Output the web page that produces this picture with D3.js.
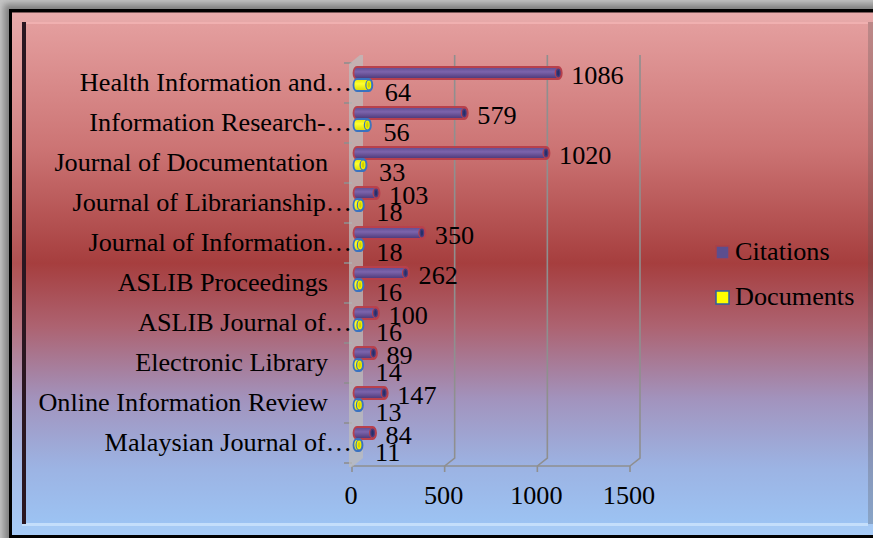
<!DOCTYPE html>
<html>
<head>
<meta charset="utf-8">
<script src="https://cdn.jsdelivr.net/npm/d3@7"></script>
<style>
  body { margin: 0; background: #c4c4c4; }
  svg { display: block; }
  text { font-family: "Liberation Serif", "Times New Roman", serif; fill: #000; }
</style>
</head>
<body>
<svg width="873" height="538"></svg>
<script>
// data
var categories = ["Health Information and\u2026", "Information Research-\u2026", "Journal of Documentation",
                  "Journal of Librarianship\u2026", "Journal of Information\u2026", "ASLIB Proceedings",
                  "ASLIB Journal of\u2026", "Electronic Library", "Online Information Review", "Malaysian Journal of\u2026"]
var citations = [1086, 579, 1020, 103, 350, 262, 100, 89, 147, 84]
var documents = [64, 56, 33, 18, 18, 16, 16, 14, 13, 11]
var xTicks = [0, 500, 1000, 1500]
var seriesNames = ["Citations", "Documents"]

var svg = d3.select('svg')
var defs = svg.append('defs')
var fs = 24.5, sx = 1.07   // text looks a bit wider than tall in the picture

// background gradient, pink -> dark red -> blue
var bg = defs.append('linearGradient').attr('id', 'bg')
    .attr('gradientUnits', 'userSpaceOnUse').attr('x1', 0).attr('y1', 12).attr('x2', 0).attr('y2', 535)
var bgStops = [[0, '#e6a2a2'], [0.26, '#cc7474'], [0.48, '#a63e3e'], [0.6, '#ad6270'],
               [0.74, '#a293bd'], [0.87, '#9cb3e3'], [1, '#9cc6f6']]
bg.selectAll('stop').data(bgStops).enter().append('stop')
    .attr('offset', function(d){ return d[0] }).attr('stop-color', function(d){ return d[1] })

var purple = defs.append('linearGradient').attr('id', 'pu').attr('x1', 0).attr('y1', 0).attr('x2', 0).attr('y2', 1)
purple.append('stop').attr('offset', 0).attr('stop-color', '#5e4a8e')
purple.append('stop').attr('offset', 0.4).attr('stop-color', '#7c64ac')
purple.append('stop').attr('offset', 1).attr('stop-color', '#4a3676')
var yellow = defs.append('linearGradient').attr('id', 'ye').attr('x1', 0).attr('y1', 0).attr('x2', 0).attr('y2', 1)
yellow.append('stop').attr('offset', 0).attr('stop-color', '#e8e800')
yellow.append('stop').attr('offset', 0.4).attr('stop-color', '#ffff30')
yellow.append('stop').attr('offset', 1).attr('stop-color', '#d8d800')

var shadow = defs.append('filter').attr('id', 'sh').attr('x', -0.1).attr('y', -0.1).attr('width', 1.2).attr('height', 1.2)
shadow.append('feGaussianBlur').attr('stdDeviation', 3)

// frame
svg.append('rect').attr('x', 4).attr('y', 4).attr('width', 880).attr('height', 540)
    .attr('fill', '#555').attr('opacity', 0.6).attr('filter', 'url(#sh)')
svg.append('rect').attr('x', 9).attr('y', 9).attr('width', 870).attr('height', 535).attr('fill', '#000')
svg.append('rect').attr('x', 12).attr('y', 12.5).attr('width', 870).attr('height', 522.5).attr('fill', 'url(#bg)')
svg.append('rect').attr('x', 12).attr('y', 12.5).attr('width', 870).attr('height', 522.5)
    .attr('fill', '#fff').attr('opacity', 0.1)
svg.append('rect').attr('x', 22).attr('y', 22).attr('width', 846).attr('height', 501).attr('fill', 'url(#bg)')
svg.append('rect').attr('x', 22).attr('y', 22).attr('width', 846).attr('height', 2).attr('fill', '#f2b4b4').attr('opacity', 0.8)
svg.append('rect').attr('x', 22).attr('y', 523).attr('width', 846).attr('height', 3).attr('fill', '#c8e0fc').attr('opacity', 0.9)
svg.append('rect').attr('x', 22).attr('y', 22).attr('width', 4).attr('height', 502).attr('fill', '#2a1620')
svg.append('rect').attr('x', 868).attr('y', 22).attr('width', 6).attr('height', 502).attr('fill', '#000').attr('opacity', 0.18)

// scales on the front plane; back wall is shifted (+10,-8), bars sit half way
var x = d3.scaleLinear().domain([0, 1500]).range([352, 630])
var y = d3.scaleBand().domain(categories).range([63, 463])
var dx = 10, dy = -8
var floorY = 466, topY = 63

var grid = svg.append('g').attr('stroke', '#8f8f8f').attr('stroke-width', 1.6).attr('fill', 'none')
// left wall
svg.append('polygon')
    .attr('points', [[349, topY + 1], [x(0) + dx - 2, topY + dy], [x(0) + dx + 1, topY + dy],
                     [x(0) + dx + 1, floorY + dy], [x(0), floorY + 1], [349, floorY + 1]].join(' '))
    .attr('fill', '#bcbcbc').attr('opacity', 0.75)
grid.selectAll('.g').data(xTicks.slice(1)).enter().append('path')
    .attr('d', function(d){ return 'M' + (x(d) + dx) + ',' + (topY + dy) + 'V' + (floorY + dy) + 'L' + x(d) + ',' + floorY })
grid.append('path').attr('d', 'M' + x(0) + ',' + floorY + 'H' + x(1500))
grid.selectAll('.t').data(xTicks).enter().append('path')
    .attr('d', function(d){ return 'M' + x(d) + ',' + floorY + 'v6' })
grid.selectAll('.c').data(d3.range(categories.length + 1)).enter().append('path')
    .attr('d', function(i){ return 'M344,' + (63 + i * y.step()) + 'h8' })

// cylinder bars
var bh = 12, rx = 3.5
function cyl(x0, x1, cy) {
  var t = cy - bh / 2, b = cy + bh / 2
  return 'M' + x0 + ',' + t + 'L' + x1 + ',' + t + 'A' + rx + ',' + (bh / 2) + ' 0 0 1 ' + x1 + ',' + b +
         'L' + x0 + ',' + b + 'A' + rx + ',' + (bh / 2) + ' 0 0 1 ' + x0 + ',' + t + 'Z'
}
function center(i) { return y(categories[i]) + y.bandwidth() / 2 + dy / 2 }
var series = [
  { vals: citations, off: -6, fill: 'url(#pu)', stroke: '#b8404c', cap: '#4a3a7c', dot: '#26306a', lx: 13, ly: 11 },
  { vals: documents, off: 6, fill: 'url(#ye)', stroke: '#3a72c0', cap: '#f0f000', dot: '#d0d000', lx: 16, ly: 16 }
]
series.forEach(function(s){
  var g = svg.append('g')
  var bars = g.selectAll('g').data(s.vals).enter().append('g')
  bars.append('path')
      .attr('d', function(d, i){ return cyl(x(0) + dx / 2, x(d) + dx / 2, center(i) + s.off) })
      .attr('fill', s.fill).attr('stroke', s.stroke).attr('stroke-width', 1.8)
  bars.append('ellipse')
      .attr('cx', function(d){ return x(d) + dx / 2 }).attr('cy', function(d, i){ return center(i) + s.off })
      .attr('rx', rx - 0.5).attr('ry', bh / 2 - 1)
      .attr('fill', s.cap).attr('stroke', s.stroke).attr('stroke-width', 1.2)
  bars.append('ellipse')
      .attr('cx', function(d){ return x(d) + dx / 2 }).attr('cy', function(d, i){ return center(i) + s.off })
      .attr('rx', 1.2).attr('ry', 3).attr('fill', s.dot)
})

// value labels
series.forEach(function(s){
  svg.append('g').selectAll('text').data(s.vals).enter().append('text')
      .attr('transform', function(d, i){
        return 'translate(' + (x(d) + dx / 2 + s.lx) + ',' + (center(i) + s.off + s.ly) + ') scale(' + sx + ',1)' })
      .style('font-size', fs + 'px')
      .text(function(d){ return d })
})

// category labels (untruncated ones keep the trailing gap seen in the picture)
svg.append('g').selectAll('text').data(categories).enter().append('text')
    .attr('transform', function(d){
      var right = d.slice(-1) == '\u2026' ? 352 : 328
      return 'translate(' + right + ',' + (y(d) + y.bandwidth() / 2 + 8) + ') scale(' + sx + ',1)' })
    .attr('text-anchor', 'end').style('font-size', fs + 'px')
    .text(function(d){ return d })

// x tick labels
svg.append('g').selectAll('text').data(xTicks).enter().append('text')
    .attr('transform', function(d){ return 'translate(' + (x(d) - 1) + ',504) scale(' + sx + ',1)' })
    .attr('text-anchor', 'middle').style('font-size', fs + 'px')
    .text(function(d){ return d })

// legend
var legend = svg.append('g').selectAll('g').data(seriesNames).enter().append('g')
    .attr('transform', function(d, i){ return 'translate(716,' + (246 + i * 45) + ')' })
legend.append('rect').attr('width', 13).attr('height', 13)
    .attr('fill', function(d, i){ return i == 0 ? '#5c4e8e' : '#ffff00' })
    .attr('stroke', function(d, i){ return i == 0 ? '#a84048' : '#2f5fa0' }).attr('stroke-width', 1.5)
legend.append('text')
    .attr('transform', 'translate(19,14) scale(' + sx + ',1)')
    .style('font-size', fs + 'px')
    .text(function(d){ return d })
</script>
</body>
</html>
